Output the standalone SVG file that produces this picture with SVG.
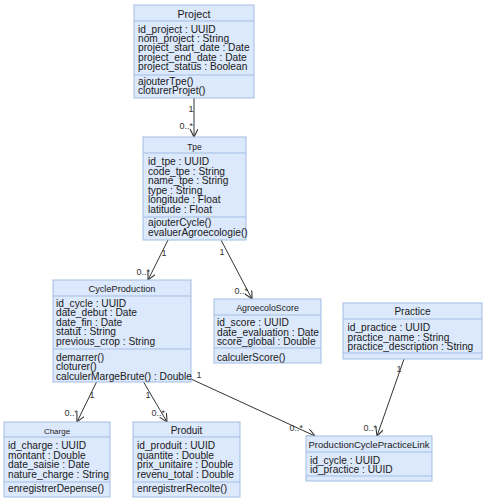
<svg xmlns="http://www.w3.org/2000/svg" width="486" height="500" viewBox="0 0 486 500">
<defs>
<style>
.box{fill:#dce8fb;stroke:#a3bde3;stroke-width:1}
.sep{stroke:#a3bde3;stroke-width:1}
.t{font-family:"Liberation Sans",Arial,sans-serif;font-size:10.2px;fill:#1a1a1a}
.ttl{font-family:"Liberation Sans",Arial,sans-serif;fill:#1a1a1a;text-anchor:middle}
.lbl{font-family:"Liberation Sans",Arial,sans-serif;font-size:9px;fill:#333}
.edge{stroke:#333;stroke-width:1;fill:none}
</style>
<marker id="arr" markerWidth="10" markerHeight="10" refX="8" refY="4" orient="auto" markerUnits="userSpaceOnUse">
<path d="M0,0 L8,4 L0,8" fill="none" stroke="#333" stroke-width="1.1"/>
</marker>
</defs>
<rect width="486" height="500" fill="#ffffff"/>

<g id="connectors">
<line class="edge" x1="194" y1="98" x2="194" y2="137" marker-end="url(#arr)"/>
<text class="lbl" x="191" y="112" text-anchor="middle">1</text>
<text class="lbl" x="193" y="129" text-anchor="end">0..*</text>

<line class="edge" x1="168" y1="240" x2="148" y2="280" marker-end="url(#arr)"/>
<text class="lbl" x="164" y="256" text-anchor="middle">1</text>
<text class="lbl" x="150" y="275" text-anchor="end">0..*</text>

<line class="edge" x1="221" y1="240" x2="252" y2="299" marker-end="url(#arr)"/>
<text class="lbl" x="222" y="254.5" text-anchor="middle">1</text>
<text class="lbl" x="248" y="293.5" text-anchor="end">0..*</text>

<line class="edge" x1="97" y1="381" x2="77" y2="422" marker-end="url(#arr)"/>
<text class="lbl" x="92" y="397.5" text-anchor="middle">1</text>
<text class="lbl" x="78" y="415.5" text-anchor="end">0..*</text>

<line class="edge" x1="143" y1="381" x2="167" y2="422" marker-end="url(#arr)"/>
<text class="lbl" x="148" y="397.5" text-anchor="middle">1</text>
<text class="lbl" x="165" y="415.5" text-anchor="end">0..*</text>

<line class="edge" x1="191" y1="379" x2="315" y2="436" marker-end="url(#arr)"/>
<text class="lbl" x="199" y="378" text-anchor="middle">1</text>
<text class="lbl" x="303" y="430.5" text-anchor="end">0..*</text>

<line class="edge" x1="404" y1="359" x2="377" y2="436" marker-end="url(#arr)"/>
<text class="lbl" x="399" y="372" text-anchor="middle">1</text>
<text class="lbl" x="377" y="430.5" text-anchor="end">0..*</text>
</g>

<g id="Project">
<rect class="box" x="134" y="5" width="120" height="93"/>
<line class="sep" x1="134" y1="21" x2="254" y2="21"/>
<line class="sep" x1="134" y1="75" x2="254" y2="75"/>
<text class="ttl" x="194" y="17.5" font-size="10.6">Project</text>
<text class="t" x="138" y="33" font-size="10.4">id_project : UUID</text>
<text class="t" x="138" y="42.2" font-size="10.4">nom_project : String</text>
<text class="t" x="138" y="51.4" font-size="10.4">project_start_date : Date</text>
<text class="t" x="138" y="60.6" font-size="10.4">project_end_date : Date</text>
<text class="t" x="138" y="70" font-size="10.4">project_status : Boolean</text>
<text class="t" x="138" y="84.5" font-size="10.4">ajouterTpe()</text>
<text class="t" x="138" y="94" font-size="10.4">cloturerProjet()</text>
</g>

<g id="Tpe">
<rect class="box" x="143" y="137" width="103" height="103"/>
<line class="sep" x1="143" y1="153" x2="246" y2="153"/>
<line class="sep" x1="143" y1="217" x2="246" y2="217"/>
<text class="ttl" x="194.5" y="150" font-size="8.5">Tpe</text>
<text class="t" x="148" y="165">id_tpe : UUID</text>
<text class="t" x="148" y="174.5">code_tpe : String</text>
<text class="t" x="148" y="184">name_tpe : String</text>
<text class="t" x="148" y="193.5">type : String</text>
<text class="t" x="148" y="203">longitude : Float</text>
<text class="t" x="148" y="212.5">latitude : Float</text>
<text class="t" x="148" y="226">ajouterCycle()</text>
<text class="t" x="148" y="235.5">evaluerAgroecologie()</text>
</g>

<g id="CycleProduction">
<rect class="box" x="53" y="280" width="138" height="102"/>
<line class="sep" x1="53" y1="296" x2="191" y2="296"/>
<line class="sep" x1="53" y1="349" x2="191" y2="349"/>
<text class="ttl" x="122" y="291.5" font-size="9.2">CycleProduction</text>
<text class="t" x="56" y="307">id_cycle : UUID</text>
<text class="t" x="56" y="316.3">date_debut : Date</text>
<text class="t" x="56" y="325.6">date_fin : Date</text>
<text class="t" x="56" y="335">statut : String</text>
<text class="t" x="56" y="344.5">previous_crop : String</text>
<text class="t" x="56" y="361">demarrer()</text>
<text class="t" x="56" y="370.3">cloturer()</text>
<text class="t" x="56" y="379.6" font-size="9.8">calculerMargeBrute() : Double</text>
</g>

<g id="AgroecoloScore">
<rect class="box" x="214" y="299" width="107" height="64"/>
<line class="sep" x1="214" y1="315" x2="321" y2="315"/>
<line class="sep" x1="214" y1="348" x2="321" y2="348"/>
<text class="ttl" x="267.5" y="310.5" font-size="8.8">AgroecoloScore</text>
<text class="t" x="217" y="326">id_score : UUID</text>
<text class="t" x="217" y="335.5">date_evaluation : Date</text>
<text class="t" x="217" y="345">score_global : Double</text>
<text class="t" x="217" y="361">calculerScore()</text>
</g>

<g id="Practice">
<rect class="box" x="343" y="303" width="139" height="56"/>
<line class="sep" x1="343" y1="319" x2="482" y2="319"/>
<line class="sep" x1="343" y1="353" x2="482" y2="353"/>
<text class="ttl" x="412.5" y="315" font-size="10">Practice</text>
<text class="t" x="347.5" y="331" font-size="10.5">id_practice : UUID</text>
<text class="t" x="347.5" y="340.5" font-size="10.5">practice_name : String</text>
<text class="t" x="347.5" y="350" font-size="10.5">practice_description : String</text>
</g>

<g id="Charge">
<rect class="box" x="4" y="422" width="106" height="75"/>
<line class="sep" x1="4" y1="437" x2="110" y2="437"/>
<line class="sep" x1="4" y1="482" x2="110" y2="482"/>
<text class="ttl" x="57" y="434" font-size="8">Charge</text>
<text class="t" x="8" y="449" font-size="10">id_charge : UUID</text>
<text class="t" x="8" y="458.7" font-size="10">montant : Double</text>
<text class="t" x="8" y="468.4" font-size="10">date_saisie : Date</text>
<text class="t" x="8" y="478" font-size="10">nature_charge : String</text>
<text class="t" x="8" y="492" font-size="10">enregistrerDepense()</text>
</g>

<g id="Produit">
<rect class="box" x="133" y="422" width="107" height="75"/>
<line class="sep" x1="133" y1="437" x2="240" y2="437"/>
<line class="sep" x1="133" y1="482" x2="240" y2="482"/>
<text class="ttl" x="186.5" y="434" font-size="10">Produit</text>
<text class="t" x="137" y="449">id_produit : UUID</text>
<text class="t" x="137" y="458.7">quantite : Double</text>
<text class="t" x="137" y="468.4">prix_unitaire : Double</text>
<text class="t" x="137" y="478">revenu_total : Double</text>
<text class="t" x="137" y="492">enregistrerRecolte()</text>
</g>

<g id="ProductionCyclePracticeLink">
<rect class="box" x="306" y="436" width="126" height="45"/>
<line class="sep" x1="306" y1="452" x2="432" y2="452"/>
<line class="sep" x1="306" y1="476" x2="432" y2="476"/>
<text class="ttl" x="369" y="448" font-size="9.5">ProductionCyclePracticeLink</text>
<text class="t" x="310" y="463.5">id_cycle : UUID</text>
<text class="t" x="310" y="473.3">id_practice : UUID</text>
</g>
</svg>
